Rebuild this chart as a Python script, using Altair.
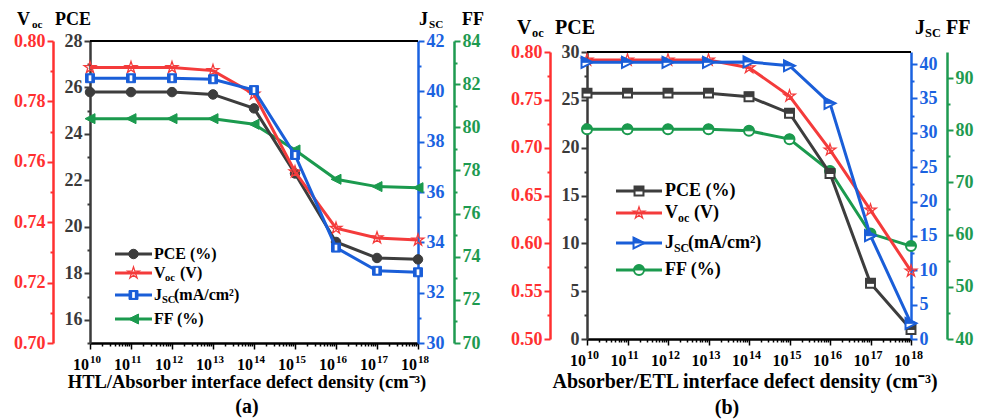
import altair as alt
import pandas as pd

FONT = "Liberation Serif"

# ---------------- data ----------------
density = [1e10, 1e11, 1e12, 1e13, 1e14, 1e15, 1e16, 1e17, 1e18]
exponents = ["10", "11", "12", "13", "14", "15", "16", "17", "18"]

pce_a = [25.8, 25.8, 25.8, 25.7, 25.1, 22.3, 19.35, 18.66, 18.6]
voc_a = [0.7912, 0.7912, 0.7912, 0.7902, 0.7824, 0.7567, 0.738, 0.7348, 0.7341]
jsc_a = [40.52, 40.52, 40.52, 40.48, 40.05, 37.47, 33.79, 32.87, 32.81]
ff_a = [80.4, 80.4, 80.4, 80.4, 80.14, 78.95, 77.59, 77.25, 77.2]

pce_b = [25.7, 25.7, 25.7, 25.7, 25.33, 23.6, 17.3, 5.82, 1.0]
voc_b = [0.7916, 0.7916, 0.7916, 0.7916, 0.7836, 0.754, 0.6976, 0.6348, 0.571]
jsc_b = [40.25, 40.25, 40.25, 40.25, 40.3, 39.75, 34.28, 15.03, 2.28]
ff_b = [80.2, 80.2, 80.2, 80.2, 79.9, 78.3, 72.2, 60.2, 57.8]

title_a = "HTL/Absorber interface defect density (cm\u207b\u00b3)"
title_b = "Absorber/ETL interface defect density (cm\u207b\u00b3)"

# ---------------- style ----------------
C_PCE = "#3d3d3d"
C_VOC = "#f43b3b"
C_JSC = "#1a5ed8"
C_FF = "#1b9a4e"
AX_PCE = "#3a3a3a"
AX_VOC = "#ff3030"
AX_JSC = "#1a62e0"
AX_FF = "#1e9a50"

STAR = "M0,-1L0.2245,-0.309L0.9511,-0.309L0.3633,0.118L0.5878,0.809L0,0.382L-0.5878,0.809L-0.3633,0.118L-0.9511,-0.309L-0.2245,-0.309Z"
CIRCLE = "M-1,0A1,1 0 1,1 1,0A1,1 0 1,1 -1,0Z"
HALF_CIRCLE = "M-1,0A1,1 0 0,1 1,0Z"
SQUARE = "M-1,-1L1,-1L1,1L-1,1Z"
HALF_SQUARE = "M-1,-1L1,-1L1,0L-1,0Z"
SLIT = "M-0.3,-0.65L0.3,-0.65L0.3,0.65L-0.3,0.65Z"
TRI_R = "M-1,-1L1,0L-1,1Z"
HALF_TRI_R = "M-1,-1L1,0L-1,0Z"
TRI_L = "M1,-1L-1,0L1,1Z"

x_ticks = [float(k * 10 ** e) for e in range(10, 18) for k in range(1, 10)] + [1e18]
X_MAJOR = "abs(log(datum.value)/LN10 - round(log(datum.value)/LN10)) < 0.000001"


def x_enc():
    return alt.X(
        "x:Q",
        scale=alt.Scale(type="log", domain=[1e10, 1e18], nice=False),
        axis=alt.Axis(
            values=x_ticks, labels=False, title=None, grid=False,
            domainColor="black", domainWidth=2.5, tickColor="black", tickWidth=1.5,
            tickSize={"condition": {"test": X_MAJOR, "value": 6}, "value": 3},
        ),
    )


def y_axis(orient, offset, values, major, color, fmt):
    return alt.Axis(
        orient=orient, offset=offset, values=values, title=None, grid=False,
        domainColor=color, domainWidth=2.5, tickColor=color, tickWidth=2,
        tickSize={"condition": {"test": major, "value": 6}, "value": 3},
        labelExpr=f"({major}) ? datum.label : ''", labelColor=color,
        labelFont=FONT, labelFontSize=18, labelFontWeight="bold",
        labelPadding=2, labelOverlap=False, format=fmt,
    )


def point_layers(base, color, marker):
    shape, mode, size, half = marker
    out = []
    if mode == "filled":
        out.append(base.mark_point(shape=shape, filled=True, fill=color, stroke=color,
                                   strokeWidth=1, size=size, opacity=1))
    elif mode == "open":
        out.append(base.mark_point(shape=shape, filled=False, color=color,
                                   strokeWidth=1.3, size=size, opacity=1))
    elif mode == "slit":
        out.append(base.mark_point(shape=shape, filled=True, fill=color, stroke=color,
                                   strokeWidth=1, size=size, opacity=1))
        out.append(base.mark_point(shape=SLIT, filled=True, fill="white", strokeWidth=0,
                                   size=size, opacity=1))
    else:
        out.append(base.mark_point(shape=shape, filled=True, fill="white", stroke=color,
                                   strokeWidth=2, size=size, opacity=1))
    if half:
        out.append(base.mark_point(shape=half, filled=True, fill=color, stroke=color,
                                   strokeWidth=1, size=size, opacity=1))
    return out


def metric(df, field, color, domain, axis, marker, H, T):
    base = alt.Chart(df).encode(
        x=x_enc(),
        y=alt.Y(f"{field}:Q",
                scale=alt.Scale(domain=domain, nice=False, zero=False, range=[H, T]),
                axis=axis),
    )
    layers = [base.mark_line(color=color, strokeWidth=3)]
    layers += point_layers(base, color, marker)
    return alt.layer(*layers)


def piece(s, x, y, size, color="black", align="left", baseline="middle"):
    return alt.Chart(pd.DataFrame({"t": [s]})).mark_text(
        font=FONT, fontSize=size, fontWeight="bold", color=color, align=align, baseline=baseline
    ).encode(text="t:N", x=alt.value(x), y=alt.value(y))


def legend_entry(x1, x2, y, color, marker):
    rule = alt.Chart(pd.DataFrame({"a": [0]})).mark_rule(color=color, strokeWidth=3).encode(
        x=alt.value(x1), x2=alt.value(x2), y=alt.value(y))
    base = alt.Chart(pd.DataFrame({"a": [0]})).encode(x=alt.value((x1 + x2) / 2), y=alt.value(y))
    return [rule] + point_layers(base, color, marker)


def panel(W, H, T, pce, voc, jsc, ff, cfg):
    df = pd.DataFrame({"x": density, "pce": pce, "voc": voc, "jsc": jsc, "ff": ff})
    m = cfg["markers"]
    layers = [
        metric(df, "ff", C_FF, cfg["ff_dom"],
               y_axis("right", 36, cfg["ff_ticks"], cfg["ff_major"], AX_FF, "d"), m["ff"], H, T),
        metric(df, "pce", C_PCE, cfg["pce_dom"],
               y_axis("left", 0, cfg["pce_ticks"], cfg["pce_major"], AX_PCE, "d"), m["pce"], H, T),
        metric(df, "voc", C_VOC, cfg["voc_dom"],
               y_axis("left", 37, cfg["voc_ticks"], cfg["voc_major"], AX_VOC, ".2f"), m["voc"], H, T),
        metric(df, "jsc", C_JSC, cfg["jsc_dom"],
               y_axis("right", 0, cfg["jsc_ticks"], cfg["jsc_major"], AX_JSC, "d"), m["jsc"], H, T),
    ]
    # top frame line
    layers.append(alt.Chart(pd.DataFrame({"a": [0]})).mark_rule(color="black", strokeWidth=2).encode(
        x=alt.value(0), x2=alt.value(W), y=alt.value(T)))
    # x tick labels (10^n)
    lab = pd.DataFrame({"x": density, "e": exponents})
    xs = cfg["xlab"]
    layers.append(alt.Chart(lab).mark_text(font=FONT, fontSize=xs[0], fontWeight="bold", color="black",
                                           align="right", baseline="alphabetic", dx=-1).encode(
        x=x_enc(), y=alt.value(H + xs[2]), text=alt.value("10")))
    layers.append(alt.Chart(lab).mark_text(font=FONT, fontSize=xs[1], fontWeight="bold", color="black",
                                           align="left", baseline="alphabetic", dx=0).encode(
        x=x_enc(), y=alt.value(H + xs[2] - 7), text="e:N"))
    # headers
    hs, hy = cfg["head_size"], T + cfg["head_y"]
    hx = cfg["head_x"]
    layers += [
        piece("V", hx[0], hy, hs), piece("oc", hx[1], hy + 5, hs * 0.62),
        piece("PCE", hx[2], hy, hs),
        piece("J", hx[3], hy, hs), piece("SC", hx[4], hy + 5, hs * 0.62),
        piece("FF", hx[5], hy, hs),
    ]
    # x title and panel label
    layers.append(piece(cfg["title"], cfg["title_x"], H + cfg["title_dy"], cfg["title_size"],
                        align="center", baseline="alphabetic"))
    layers.append(piece(cfg["panel"], cfg["panel_x"], H + cfg["panel_dy"], 20, align="center"))
    # legend
    lx1, lx2, tx = cfg["leg_x"]
    ls = cfg["leg_size"]
    rows = [T + r for r in cfg["leg_rows"]]
    sub = ls * 0.66
    o = cfg["leg_off"]
    layers += legend_entry(lx1, lx2, rows[0], C_PCE, m["pce"])
    layers.append(piece("PCE (%)", tx, rows[0], ls))
    layers += legend_entry(lx1, lx2, rows[1], C_VOC, m["voc"])
    layers += [piece("V", tx, rows[1], ls), piece("oc", tx + o[0], rows[1] + 5, sub),
               piece("(V)", tx + o[1], rows[1], ls)]
    layers += legend_entry(lx1, lx2, rows[2], C_JSC, m["jsc"])
    layers += [piece("J", tx, rows[2], ls), piece("SC", tx + o[2], rows[2] + 5, sub),
               piece("(mA/cm\u00b2)", tx + o[3], rows[2], ls)]
    layers += legend_entry(lx1, lx2, rows[3], C_FF, m["ff"])
    layers.append(piece("FF (%)", tx, rows[3], ls))
    return alt.layer(*layers).resolve_scale(y="independent").properties(width=W, height=H)


cfg_a = dict(
    markers={"pce": (CIRCLE, "filled", 90, None), "voc": (STAR, "open", 150, None),
             "jsc": (SQUARE, "slit", 80, None), "ff": (TRI_L, "filled", 100, None)},
    pce_dom=[15, 28], pce_ticks=list(range(15, 29)), pce_major="datum.value % 2 == 0",
    voc_dom=[0.70, 0.80], voc_ticks=[round(0.70 + 0.01 * i, 2) for i in range(11)],
    voc_major="abs(datum.value*50 - round(datum.value*50)) < 0.000001",
    jsc_dom=[30, 42], jsc_ticks=list(range(30, 43)), jsc_major="datum.value % 2 == 0",
    ff_dom=[70, 84], ff_ticks=list(range(70, 85)), ff_major="datum.value % 2 == 0",
    xlab=(16, 11, 27),
    head_size=18, head_y=-21, head_x=[-73, -58, -35, 329, 339, 372],
    title=title_a, title_x=157, title_dy=45, title_size=18.5,
    panel="(a)", panel_x=157, panel_dy=64,
    leg_x=(25, 62, 64), leg_size=16, leg_rows=[213, 232, 254, 278], leg_off=[11, 26, 8, 20],
)

cfg_b = dict(
    markers={"pce": (SQUARE, "white", 80, HALF_SQUARE), "voc": (STAR, "open", 150, None),
             "jsc": (TRI_R, "white", 120, HALF_TRI_R), "ff": (CIRCLE, "white", 100, HALF_CIRCLE)},
    pce_dom=[0, 30], pce_ticks=[2.5 * i for i in range(13)], pce_major="datum.value % 5 == 0",
    voc_dom=[0.50, 0.80], voc_ticks=[round(0.50 + 0.025 * i, 3) for i in range(13)],
    voc_major="abs(datum.value*20 - round(datum.value*20)) < 0.000001",
    jsc_dom=[0, 41.75], jsc_ticks=[2.5 * i for i in range(17)], jsc_major="datum.value % 5 == 0",
    ff_dom=[40, 95], ff_ticks=[40 + 5 * i for i in range(11)], ff_major="datum.value % 10 == 0",
    xlab=(16, 12, 27),
    head_size=20, head_y=-24, head_x=[-70, -55, -32, 328, 338, 359],
    title=title_b, title_x=158, title_dy=49, title_size=20,
    panel="(b)", panel_x=140, panel_dy=69,
    leg_x=(29, 75, 78), leg_size=18, leg_rows=[139, 161, 191, 218], leg_off=[13, 29, 9, 23],
)

chart_a = panel(328, 302, 0, pce_a, voc_a, jsc_a, ff_a, cfg_a)
chart_b = panel(324, 298, 11, pce_b, voc_b, jsc_b, ff_b, cfg_b)

chart = alt.hconcat(chart_a, chart_b, spacing=25).configure_view(stroke="transparent").properties(
    padding={"left": 13, "top": 10, "right": 5, "bottom": 5},
    background="white",
)

chart.save("out.html", embed_options={"renderer": "svg", "actions": False})
